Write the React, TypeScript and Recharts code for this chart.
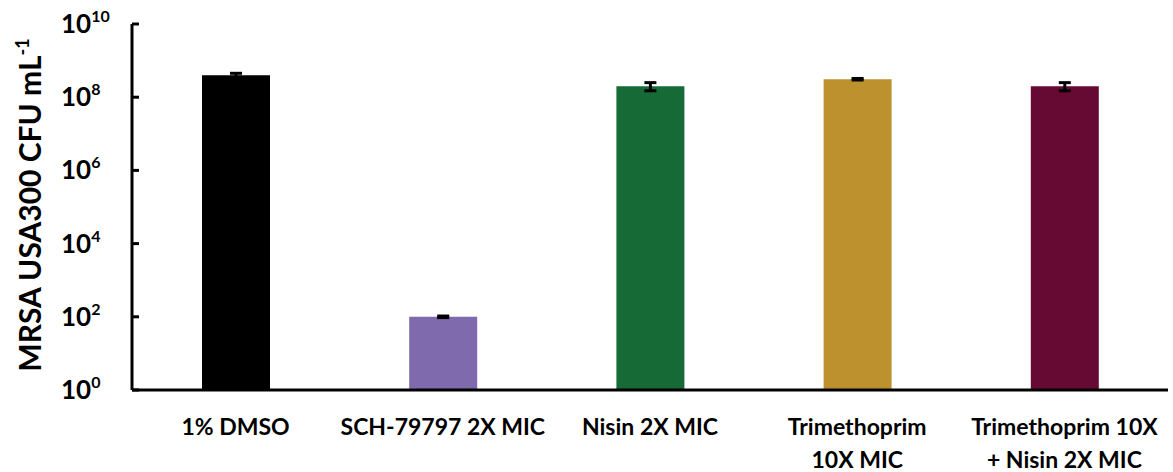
import { Bar, BarChart, Cell, ErrorBar, XAxis, YAxis } from 'recharts'

const TRATAMIENTOS = [
  '1% DMSO',
  'SCH-79797 2X MIC',
  'Nisin 2X MIC',
  'Trimethoprim\n10X MIC',
  'Trimethoprim 10X\n+ Nisin 2X MIC',
]
const CFU = [4.0e8, 100, 2.0e8, 3.1e8, 2.0e8]
const ERRORES = [0.5e8, 5, 0.5e8, 0.15e8, 0.5e8]
const COLORES = ['#000000', '#7f6aad', '#156a36', '#bd922e', '#660a34']
const TICKS_Y = [1, 1e2, 1e4, 1e6, 1e8, 1e10]

const FUENTE = 'Lato, sans-serif'

const data = TRATAMIENTOS.map((t, i) => ({ nombre: t, cfu: CFU[i], err: ERRORES[i] }))

// tick hacia dentro + etiqueta 10^n
function TickY(props: any) {
  const { x, y, payload } = props
  const exp = Math.round(Math.log10(payload.value))
  return (
    <g>
      <line x1={x + 6} x2={x + 13} y1={y} y2={y} stroke="#000" strokeWidth={3} />
      <text x={x - 65} y={y + 9} fontFamily={FUENTE} fontWeight="bold" fontSize={26} fill="#000">
        10
        <tspan dy={-11} fontSize={16}>
          {exp}
        </tspan>
      </text>
    </g>
  )
}

function TickX(props: any) {
  const { x, y, payload } = props
  const lineas = String(payload.value).split('\n')
  return (
    <text
      x={x}
      y={y}
      textAnchor="middle"
      fontFamily={FUENTE}
      fontWeight="bold"
      fontSize={23}
      fill="#000"
    >
      {lineas.map((l, i) => (
        <tspan key={i} x={x} dy={i === 0 ? 37 : 33}>
          {l}
        </tspan>
      ))}
    </text>
  )
}

function EtiquetaY() {
  return (
    <text
      transform="rotate(-90 41 205)"
      x={41}
      y={205}
      textAnchor="middle"
      fontFamily={FUENTE}
      fontWeight="bold"
      fontSize={30}
      fill="#000"
    >
      MRSA USA300 CFU mL
      <tspan dy={-12} fontSize={18}>
        -1
      </tspan>
    </text>
  )
}

export default function App() {
  return (
    <div style={{ position: 'absolute', left: 0, top: 0, background: '#fff' }}>
      <BarChart
        width={1173}
        height={472}
        data={data}
        margin={{ top: 24, right: 5, left: 0, bottom: 0 }}
        barCategoryGap={0}
      >
        <XAxis
          dataKey="nombre"
          interval={0}
          tick={<TickX />}
          tickLine={false}
          axisLine={{ stroke: '#000', strokeWidth: 3 }}
          height={82}
        />
        <YAxis
          scale="log"
          domain={[1, 1e10]}
          ticks={TICKS_Y}
          allowDataOverflow
          width={132}
          tick={<TickY />}
          tickSize={6}
          tickMargin={0}
          tickLine={false}
          axisLine={{ stroke: '#000', strokeWidth: 3 }}
          label={<EtiquetaY />}
        />
        <Bar dataKey="cfu" barSize={68} isAnimationActive={false}>
          {data.map((_, i) => (
            <Cell key={i} fill={COLORES[i]} />
          ))}
          <ErrorBar dataKey="err" width={6} stroke="#000" strokeWidth={3} />
        </Bar>
      </BarChart>
    </div>
  )
}
